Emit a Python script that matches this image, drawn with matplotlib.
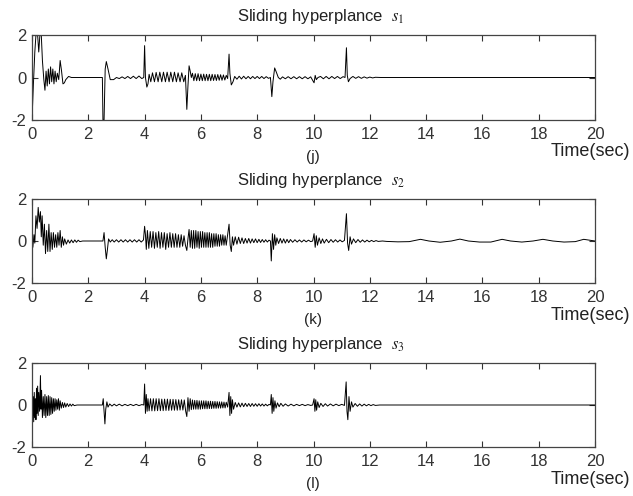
import matplotlib
matplotlib.use('Agg')
import matplotlib.pyplot as plt

plt.rcParams['font.family'] = ['Liberation Sans', 'DejaVu Sans']
plt.rcParams['mathtext.fontset'] = 'stix'
plt.rcParams['axes.unicode_minus'] = False

x_ticks = [0, 2, 4, 6, 8, 10, 12, 14, 16, 18, 20]
y_ticks = [-2, 0, 2]
titles = ['Sliding hyperplance  $s_1$', 'Sliding hyperplance  $s_2$', 'Sliding hyperplance  $s_3$']
tags = ['(j)', '(k)', '(l)']
x_label = 'Time(sec)'

# ---- panel (j): s1 ----
s1_t = [0.00, 0.05, 0.10, 0.14, 0.20, 0.24, 0.28, 0.33, 0.37, 0.42,
        0.46, 0.50, 0.54, 0.58, 0.62, 0.66, 0.70, 0.74, 0.78, 0.82,
        0.86, 0.90, 0.95, 1.00, 1.05, 1.10, 1.15, 1.20, 1.30, 1.40, 2.50,
        2.52, 2.56, 2.60, 2.64, 2.70, 2.78, 2.90, 3.00, 3.10,
        3.20, 3.30, 3.40, 3.50, 3.60, 3.70, 3.80, 3.90, 3.97,
        4.00, 4.03, 4.08, 4.12, 4.16,
        4.22, 4.28, 4.35, 4.41, 4.48, 4.54, 4.61, 4.67, 4.74, 4.80,
        4.87, 4.93, 5.00, 5.06, 5.13, 5.19, 5.26, 5.32, 5.39, 5.45,
        5.50, 5.54, 5.58, 5.62, 5.66,
        5.70, 5.75, 5.80, 5.85, 5.90, 5.95, 6.00, 6.05, 6.10, 6.15,
        6.20, 6.25, 6.30, 6.35, 6.40, 6.45, 6.50, 6.55, 6.60, 6.65,
        6.70, 6.75, 6.80, 6.85, 6.90, 6.95,
        7.00, 7.03, 7.08, 7.14, 7.20,
        7.28, 7.36, 7.44, 7.52, 7.60, 7.68, 7.76, 7.84, 7.92, 8.00,
        8.08, 8.16, 8.24, 8.32, 8.40, 8.47,
        8.52, 8.56, 8.62, 8.68, 8.75, 8.82,
        8.90, 9.00, 9.10, 9.20, 9.30, 9.40, 9.50, 9.60, 9.70, 9.80, 9.90,
        10.02, 10.06, 10.10, 10.16,
        10.25, 10.35, 10.45, 10.55, 10.65, 10.75, 10.85, 10.95, 11.05, 11.12,
        11.17, 11.20, 11.24, 11.30,
        11.40, 11.50, 11.60, 11.70, 11.80, 11.90, 12.00, 12.10, 12.20, 12.40, 20.00]
s1_v = [-2.0, -0.3, 1.2, 2.0, 2.0, 1.2, 2.0, 2.0, 0.8, -0.1,
        -0.6, 0.3, -0.4, 0.4, -0.3, 0.5, -0.2, 0.4, -0.3, 0.3,
        -0.2, 0.2, -0.1, 0.8, 0.3, -0.3, -0.25, -0.1, 0.05, 0.0, 0.0,
        -2.0, -2.0, 0.4, 0.75, 0.4, -0.1, -0.1, 0.0, -0.05,
        0.03, -0.05, 0.05, -0.05, 0.06, -0.05, 0.07, -0.05, 0.0,
        1.5, 0.0, -0.45, -0.3, 0.15,
        -0.2, 0.22, -0.2, 0.24, -0.2, 0.25, -0.2, 0.25, -0.2, 0.25,
        -0.2, 0.25, -0.2, 0.25, -0.2, 0.22, -0.2, 0.22, -0.2, 0.1,
        -1.5, -0.4, 0.55, 0.3, 0.0,
        0.2, -0.15, 0.18, -0.15, 0.18, -0.15, 0.16, -0.15, 0.16, -0.15,
        0.15, -0.15, 0.15, -0.15, 0.15, -0.14, 0.14, -0.14, 0.14, -0.13,
        0.13, -0.13, 0.12, -0.12, 0.1, -0.05,
        1.1, 0.2, -0.35, -0.2, 0.05,
        -0.08, 0.06, -0.07, 0.06, -0.06, 0.05, -0.06, 0.05, -0.05, 0.05,
        -0.05, 0.05, -0.05, 0.04, -0.04, 0.0,
        -0.9, -0.2, 0.45, 0.25, 0.0, -0.08,
        0.03, -0.06, 0.04, -0.06, 0.04, -0.06, 0.04, -0.06, 0.04, -0.06, 0.03,
        -0.25, 0.1, -0.1, 0.0,
        0.05, -0.06, 0.05, -0.06, 0.05, -0.05, 0.05, -0.05, 0.04, 0.0,
        1.4, 0.1, -0.2, -0.05,
        0.05, -0.04, 0.04, -0.04, 0.03, -0.03, 0.02, -0.02, 0.01, 0.0, 0.0]

# ---- panel (k): s2 ----
s2_t = [0.00, 0.03, 0.07, 0.10, 0.14, 0.18, 0.22, 0.26, 0.30, 0.33,
        0.36, 0.40, 0.44, 0.48, 0.52, 0.56, 0.60, 0.64, 0.68, 0.72,
        0.76, 0.80, 0.84, 0.88, 0.92, 0.96, 1.00, 1.04, 1.08, 1.12,
        1.16, 1.22, 1.28, 1.34, 1.40, 1.46, 1.52, 1.58, 1.64, 1.70, 1.80, 2.52,
        2.56, 2.60, 2.64, 2.68, 2.72, 2.78,
        2.85, 2.92, 3.00, 3.08, 3.16, 3.24, 3.32, 3.40, 3.48, 3.56,
        3.64, 3.72, 3.80, 3.88, 3.96,
        4.00, 4.03, 4.06, 4.10,
        4.15, 4.20, 4.25, 4.30, 4.35, 4.40, 4.45, 4.50, 4.55, 4.60,
        4.65, 4.70, 4.75, 4.80, 4.85, 4.90, 4.95, 5.00, 5.05, 5.10,
        5.15, 5.20, 5.25, 5.30, 5.35, 5.40, 5.45,
        5.50, 5.54, 5.58, 5.62,
        5.66, 5.70, 5.74, 5.78, 5.82, 5.86, 5.90, 5.94, 5.98, 6.02,
        6.06, 6.10, 6.14, 6.18, 6.22, 6.26, 6.30, 6.34, 6.38, 6.42,
        6.46, 6.50, 6.54, 6.58, 6.62, 6.66, 6.70, 6.74, 6.78, 6.82,
        6.86, 6.90, 6.94,
        7.00, 7.04, 7.08, 7.12, 7.16,
        7.22, 7.28, 7.34, 7.40, 7.46, 7.52, 7.58, 7.64, 7.70, 7.76,
        7.82, 7.88, 7.94, 8.00, 8.06, 8.12, 8.18, 8.24, 8.30, 8.36, 8.42, 8.47,
        8.50, 8.54, 8.58, 8.62, 8.66, 8.70,
        8.76, 8.82, 8.88, 8.94, 9.00, 9.06, 9.12, 9.18, 9.26, 9.34,
        9.42, 9.50, 9.58, 9.66, 9.74, 9.82, 9.90, 9.97,
        10.02, 10.06, 10.10, 10.14,
        10.20, 10.26, 10.32, 10.38, 10.46, 10.54, 10.62, 10.70, 10.78, 10.86,
        10.94, 11.02, 11.10,
        11.17, 11.21, 11.25, 11.30, 11.35,
        11.42, 11.50, 11.58, 11.66, 11.74, 11.82, 11.90, 11.98, 12.06, 12.14,
        12.22, 12.30, 12.45,
        12.60, 13.00, 13.40, 13.80, 14.10, 14.50, 14.90, 15.20, 15.50, 15.90,
        16.30, 16.70, 17.00, 17.40, 17.80, 18.15, 18.50, 18.90, 19.30, 19.60, 20.00]
s2_v = [0.0, -0.3, 0.3, -0.1, 1.2, 0.6, 1.6, 0.9, 1.4, 0.2,
        1.2, -0.2, 0.8, -0.6, 0.5, -0.5, 0.8, -0.5, 0.4, -0.4,
        0.4, -0.3, 0.3, -0.3, 0.4, -0.2, 0.5, -0.3, 0.2, -0.2,
        0.1, -0.15, 0.05, -0.1, 0.05, -0.08, 0.05, -0.06, 0.04, -0.03, 0.0, 0.0,
        0.4, -0.3, -0.85, -0.4, 0.1, -0.05,
        0.06, -0.05, 0.06, -0.05, 0.06, -0.05, 0.06, -0.05, 0.06, -0.05,
        0.06, -0.05, 0.06, -0.05, 0.05,
        0.7, 0.3, -0.4, 0.5,
        -0.35, 0.45, -0.3, 0.45, -0.35, 0.4, -0.3, 0.45, -0.35, 0.4,
        -0.3, 0.4, -0.4, 0.35, -0.3, 0.4, -0.3, 0.35, -0.3, 0.35,
        -0.3, 0.3, -0.3, 0.3, -0.25, 0.25, -0.2,
        -0.45, 0.1, 0.55, -0.3,
        0.5, -0.35, 0.5, -0.35, 0.5, -0.3, 0.45, -0.35, 0.45, -0.3,
        0.45, -0.3, 0.4, -0.3, 0.4, -0.3, 0.4, -0.3, 0.35, -0.3,
        0.35, -0.25, 0.35, -0.25, 0.3, -0.25, 0.3, -0.2, 0.3, -0.2,
        0.25, -0.2, 0.2,
        0.8, -0.2, -0.5, 0.2, -0.2,
        0.2, -0.15, 0.18, -0.12, 0.15, -0.12, 0.12, -0.1, 0.12, -0.1,
        0.1, -0.08, 0.1, -0.08, 0.08, -0.07, 0.07, -0.06, 0.06, -0.05, 0.04, 0.0,
        -0.95, 0.35, -0.4, 0.3, -0.2, 0.15,
        -0.12, 0.12, -0.1, 0.1, -0.1, 0.08, -0.08, 0.07, -0.06, 0.06,
        -0.05, 0.05, -0.05, 0.05, -0.04, 0.04, -0.03, 0.0,
        0.35, -0.3, 0.25, -0.2,
        0.15, -0.12, 0.1, -0.1, 0.08, -0.08, 0.07, -0.06, 0.06, -0.05,
        0.05, -0.04, 0.03,
        1.3, -0.1, -0.45, 0.2, -0.15,
        0.1, -0.08, 0.07, -0.06, 0.05, -0.05, 0.04, -0.04, 0.03, -0.03,
        0.02, -0.02, 0.0,
        -0.02, -0.04, -0.03, 0.08, 0.0, -0.06, 0.0, 0.09, 0.0, -0.05,
        -0.05, 0.08, 0.0, -0.05, 0.0, 0.08, 0.0, -0.05, -0.03, 0.08, 0.0]

# ---- panel (l): s3 ----
s3_t = [0.00, 0.02, 0.04, 0.06, 0.08, 0.10, 0.12, 0.14, 0.16, 0.18,
        0.20, 0.22, 0.24, 0.27, 0.30, 0.32, 0.34, 0.37, 0.40, 0.43,
        0.46, 0.49, 0.52, 0.55, 0.58, 0.61, 0.64, 0.67, 0.70, 0.73,
        0.76, 0.79, 0.82, 0.85, 0.88, 0.91, 0.94, 0.97, 1.00, 1.04,
        1.08, 1.12, 1.16, 1.20, 1.25, 1.30, 1.35, 1.40, 1.45, 1.50, 1.60, 2.50,
        2.53, 2.56, 2.59, 2.62, 2.66, 2.70,
        2.76, 2.84, 2.92, 3.00, 3.10, 3.20, 3.30, 3.40, 3.50, 3.60,
        3.70, 3.80, 3.90, 3.97,
        4.00, 4.03, 4.06, 4.09, 4.12,
        4.16, 4.21, 4.26, 4.31, 4.36, 4.41, 4.46, 4.51, 4.56, 4.61,
        4.66, 4.71, 4.76, 4.81, 4.86, 4.91, 4.96, 5.01, 5.06, 5.11,
        5.16, 5.21, 5.26, 5.31, 5.36, 5.41, 5.46,
        5.50, 5.54, 5.58, 5.62,
        5.66, 5.70, 5.74, 5.78, 5.82, 5.86, 5.90, 5.94, 5.98, 6.02,
        6.06, 6.10, 6.14, 6.18, 6.22, 6.26, 6.30, 6.34, 6.38, 6.42,
        6.46, 6.50, 6.54, 6.58, 6.62, 6.66, 6.70, 6.74, 6.78, 6.82,
        6.86, 6.90, 6.95,
        7.00, 7.03, 7.06, 7.09, 7.12, 7.16,
        7.22, 7.28, 7.34, 7.40, 7.46, 7.52, 7.58, 7.64, 7.70, 7.76,
        7.82, 7.88, 7.94, 8.00, 8.06, 8.12, 8.18, 8.24, 8.30, 8.36, 8.42, 8.47,
        8.50, 8.53, 8.56, 8.59, 8.63, 8.67,
        8.72, 8.78, 8.84, 8.92, 9.00, 9.10, 9.20, 9.30, 9.40, 9.50,
        9.60, 9.70, 9.80, 9.90, 9.97,
        10.02, 10.05, 10.08, 10.11, 10.15, 10.20,
        10.26, 10.34, 10.42, 10.50, 10.60, 10.70, 10.80, 10.90, 11.00, 11.10,
        11.16, 11.19, 11.22, 11.26, 11.30, 11.35, 11.40,
        11.48, 11.56, 11.64, 11.72, 11.80, 11.88, 11.96, 12.04, 12.12, 12.20,
        12.35, 20.00]
s3_v = [0.0, -0.5, 0.4, -0.8, 0.6, -0.6, 0.3, -0.7, 0.8, -0.4,
        0.9, -0.5, 0.6, -0.3, 1.4, -0.2, 0.7, -0.6, 0.4, -0.5,
        0.5, -0.6, 0.4, -0.5, 0.45, -0.5, 0.4, -0.45, 0.35, -0.4,
        0.3, -0.3, 0.3, -0.25, 0.25, -0.2, 0.3, -0.25, 0.2, -0.15,
        0.12, -0.12, 0.1, -0.1, 0.07, -0.07, 0.05, -0.05, 0.04, -0.03, 0.0, 0.0,
        0.3, -0.3, -0.9, -0.2, 0.15, -0.1,
        0.05, -0.05, 0.04, -0.04, 0.04, -0.04, 0.03, -0.03, 0.03, -0.03,
        0.03, -0.03, 0.02, 0.0,
        1.0, -0.4, 0.5, -0.3, 0.3,
        -0.28, 0.3, -0.28, 0.3, -0.28, 0.3, -0.27, 0.3, -0.27, 0.28,
        -0.27, 0.28, -0.26, 0.28, -0.26, 0.27, -0.25, 0.27, -0.25, 0.26,
        -0.25, 0.25, -0.24, 0.25, -0.24, 0.24, -0.3,
        -0.55, 0.35, -0.3, 0.3,
        -0.22, 0.24, -0.2, 0.22, -0.2, 0.22, -0.2, 0.2, -0.2, 0.2,
        -0.18, 0.2, -0.18, 0.2, -0.18, 0.18, -0.17, 0.18, -0.17, 0.17,
        -0.16, 0.17, -0.16, 0.16, -0.15, 0.15, -0.15, 0.15, -0.14, 0.14,
        -0.14, 0.13, -0.1,
        0.6, -0.5, 0.4, -0.4, 0.25, -0.2,
        0.12, -0.1, 0.1, -0.09, 0.09, -0.08, 0.08, -0.07, 0.07, -0.07,
        0.07, -0.06, 0.06, -0.06, 0.06, -0.05, 0.05, -0.05, 0.04, -0.04, 0.03, 0.0,
        0.5, -0.4, 0.35, -0.3, 0.2, -0.15,
        0.1, -0.08, 0.08, -0.06, 0.05, -0.05, 0.04, -0.04, 0.03, -0.03,
        0.03, -0.03, 0.02, -0.02, 0.0,
        0.3, -0.3, 0.25, -0.25, 0.15, -0.12,
        0.08, -0.07, 0.06, -0.05, 0.05, -0.04, 0.04, -0.03, 0.03, -0.02,
        1.1, -0.3, -0.7, 0.4, -0.3, 0.15, -0.1,
        0.07, -0.06, 0.05, -0.05, 0.04, -0.04, 0.03, -0.03, 0.02, -0.02,
        0.0, 0.0]

series = [(s1_t, s1_v), (s2_t, s2_v), (s3_t, s3_v)]

W, H = 633, 496
fig = plt.figure(figsize=(W / 100, H / 100), dpi=100)

# axes boxes in pixels: (left, top, right, bottom)
boxes = [(32, 35, 595, 120), (32, 199, 595, 283), (32, 363, 595, 447)]

for i, (t, v) in enumerate(series):
    l, top, r, b = boxes[i]
    ax = fig.add_axes([l / W, 1 - b / H, (r - l) / W, (b - top) / H])
    ax.plot(t, v, color='black', linewidth=0.7)
    ax.set_xlim(0, 20)
    ax.set_ylim(-2, 2)
    ax.set_xticks(x_ticks)
    ax.set_yticks(y_ticks)
    ax.tick_params(direction='in', length=4, width=0.8, top=True, right=True,
                   labelsize=12, colors='#333333')
    ax.tick_params(axis='x', pad=5)
    ax.tick_params(axis='y', pad=4)
    for sp in ax.spines.values():
        sp.set_color('#444444')
        sp.set_linewidth(0.9)

    fig.text(321 / W, 1 - (top - 19) / H, titles[i], ha='center', va='center',
             fontsize=12, color='#222222')
    fig.text(313 / W, 1 - (b + 37) / H, tags[i], ha='center', va='center',
             fontsize=11, color='#222222')
    fig.text(630 / W, 1 - (b + 32) / H, x_label, ha='right', va='center',
             fontsize=13, color='#222222')

fig.savefig('out.png', dpi=100)
